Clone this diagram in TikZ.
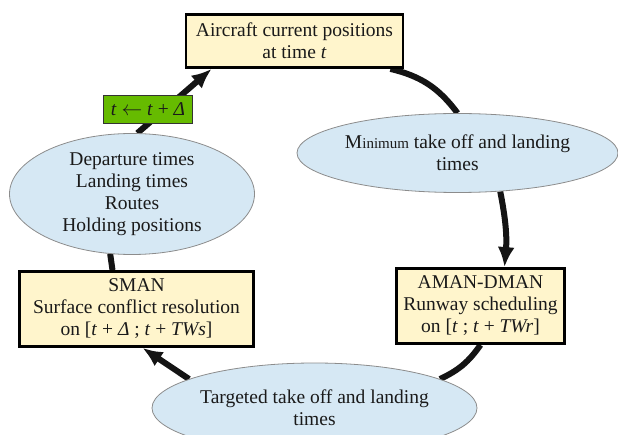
\documentclass[tikz,border=0pt]{standalone}
\usepackage{fontspec}
\setmainfont{Liberation Serif}
\usetikzlibrary{shapes.geometric,arrows.meta,backgrounds}
\definecolor{boxfill}{HTML}{FFF5CC}
\definecolor{ellfill}{HTML}{D6E8F4}
\definecolor{ellline}{HTML}{8C8C8C}
\definecolor{stepgreen}{HTML}{66BB00}
\definecolor{inkcol}{HTML}{1A1A1A}
\begin{document}
\begin{tikzpicture}[x=1pt,y=-1pt,
  font=\fontsize{19.5}{22}\selectfont,
  text=inkcol,
  procbox/.style={draw=black, line width=2.8pt, fill=boxfill, align=center, inner sep=0pt},
  databubble/.style={ellipse, draw=ellline, line width=0.8pt, fill=ellfill, align=center, inner sep=0pt},
  stepbox/.style={draw=black!80, line width=1pt, fill=stepgreen, inner sep=0pt},
  flow/.style={line width=6pt, draw=black!92},
  flowarrow/.style={flow, -{Latex[length=20pt,width=17pt]}},
]
\useasboundingbox (0,0) rectangle (618,435);
\clip (0,0) rectangle (618,435);

% processing stages
\node[procbox, minimum width=217pt, minimum height=53pt] (top) at (294.5,41)
  {Aircraft current positions\\at time \textit{t}};
\node[procbox, minimum width=168pt, minimum height=75pt] (aman) at (480.5,306)
  {AMAN-DMAN\\Runway scheduling\\on [\textit{t} ; \textit{t} + \textit{TWr}]};
\node[procbox, minimum width=234pt, minimum height=75pt] (sman) at (136.5,309)
  {SMAN\\Surface conflict resolution\\on [\textit{t} + \textit{Δ} ; \textit{t} + \textit{TWs}]};

% exchanged data
\node[databubble, minimum width=321pt, minimum height=79pt] (need) at (457.5,153)
  {M{\fontsize{15}{22}\selectfont inimum} take off and landing\\times};
\node[databubble, minimum width=325pt, minimum height=90pt] (target) at (314.5,408)
  {Targeted take off and landing\\times};
\node[databubble, minimum width=245pt, minimum height=121pt] (plan) at (132,194)
  {Departure times\\Landing times\\Routes\\Holding positions};

% time step
\node[stepbox, minimum width=89pt, minimum height=28pt] (tick) at (148,109.5)
  {\textit{t} $\leftarrow$ \textit{t} + \textit{Δ}};

% the planning loop
\begin{scope}[on background layer]
  \draw[flow] ([xshift=-14pt]top.south east) to[bend left=20] (need.north);
  \draw[flowarrow] (need.318) to[bend left=8] ([xshift=24pt]aman.north);
  \draw[flow] (aman.south) to[bend left=15] (target.13);
  \draw[flowarrow] (target.167) -- ([xshift=6pt]sman.south);
  \draw[flow] ([xshift=-24pt]sman.north) -- (plan.250);
  \draw[flowarrow] (plan.85) -- ([xshift=27pt]top.south west);
\end{scope}
\end{tikzpicture}
\end{document}
